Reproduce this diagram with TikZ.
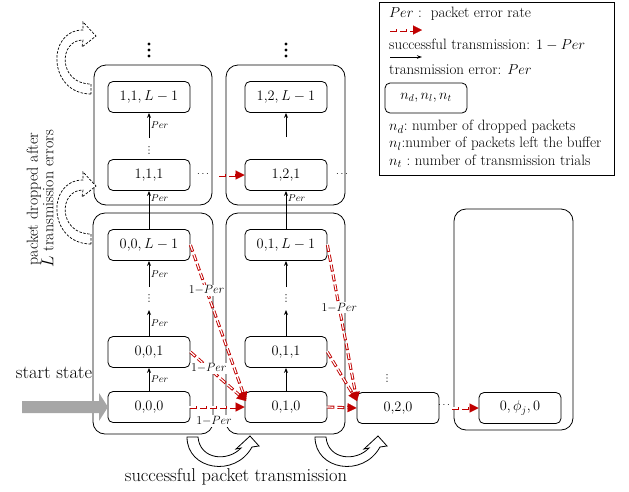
\documentclass[tikz,border=0pt]{standalone}
\usetikzlibrary{arrows.meta,calc}
\definecolor{redc}{HTML}{C00000}
\definecolor{grayc}{HTML}{A6A6A6}
\newcommand\fs[1]{\fontsize{#1}{#1}\selectfont}
\newcommand\redarr[2]{%
  \draw[rdo] (#1) -- (#2);
  \draw[rdi] (#1) -- (#2);
  \draw[rh] ($(#2)!9pt!(#1)$) -- (#2);}
\begin{document}
\begin{tikzpicture}[x=1pt,y=-1pt,
  st/.style={draw, rounded corners=5pt, minimum width=82pt, minimum height=31pt, inner sep=0pt, font=\fs{14.5}, line width=0.8pt},
  grp/.style={draw, rounded corners=12pt, line width=0.8pt},
  up/.style={-{Stealth[length=5pt,width=4pt]}, line width=0.9pt},
  per/.style={font=\fs{10}, inner sep=1.5pt},
  opl/.style={font=\fs{11.5}, fill=white, inner sep=1pt},
  rdo/.style={draw=redc, line width=3pt, dash pattern=on 7pt off 3pt, shorten >=8pt},
  rdi/.style={draw=white, line width=1.2pt, dash pattern=on 7pt off 3pt, shorten >=8pt, shorten <=-1pt},
  rh/.style={draw=redc, fill=redc, line width=0.1pt, -{Triangle[length=9pt,width=9pt]}},
  sd/.style={font=\fs{10}, inner sep=0pt},
  big/.style={font=\fs{18.5}, inner sep=0pt},
  leg/.style={font=\fs{15}, inner sep=0pt, anchor=west},
  blk/.style={draw, fill=white, line width=0.8pt},
  dblk/.style={draw, fill=white, line width=0.7pt, dash pattern=on 2.5pt off 1.5pt},
  bdot/.style={fill, radius=1.7pt},
  sdot/.style={fill, radius=0.6pt}
]
\useasboundingbox (0,0) rectangle (629,491);

% legend
\draw[line width=0.8pt] (379,2) rectangle (614,175);
\node[leg] (l1) at (389,14) {$Per$ :\ \ packet error rate};
\coordinate (la1) at (390,30); \coordinate (lb1) at (422,30);
\redarr{la1}{lb1}
\node[leg] (l2) at (389,45) {successful transmission: $1-Per$};
\coordinate (la2) at (390,57); \coordinate (lb2) at (422,57);
\draw[-{Stealth[length=5pt,width=3.5pt]}, line width=0.9pt] (la2) -- (lb2);
\node[leg] (l3) at (389,70) {transmission error: $Per$};
\node[st, minimum height=30pt] (lb) at (426,98) {$n_d, n_l, n_t$};
\node[leg] (l4) at (389,127) {$n_d$:\ number of dropped packets};
\node[leg] (l5) at (389,144) {$n_l$:number of packets left the buffer};
\node[leg] (l6) at (389,161) {$n_t$ :\ number of transmission trials};

% groups
\draw[grp] (94,65) rectangle (212,205);
\draw[grp] (226,65) rectangle (345,205);
\draw[grp] (93,213) rectangle (213,434);
\draw[grp] (226,213) rectangle (345,434);
\draw[grp] (454,209) rectangle (573,430);

% states
\node[st] (n11L) at (149,97) {$1{,}1, L-1$};
\node[st] (n111) at (149,175) {$1{,}1{,}1$};
\node[st] (n12L) at (286,97) {$1{,}2, L-1$};
\node[st] (n121) at (286,175) {$1{,}2{,}1$};
\node[st] (n00L) at (149,245) {$0{,}0, L-1$};
\node[st] (n001) at (149,352) {$0{,}0{,}1$};
\node[st] (n000) at (149,407) {$0{,}0{,}0$};
\node[st] (n01L) at (286,245) {$0{,}1, L-1$};
\node[st] (n011) at (286,352) {$0{,}1{,}1$};
\node[st] (n010) at (286,407) {$0{,}1{,}0$};
\node[st] (n020) at (398,408) {$0{,}2{,}0$};
\node[st] (n0phi) at (520,408) {$0, \phi_j, 0$};

% vertical dots
\foreach \xx in {149,286} {\fill[bdot] (\xx,44) circle; \fill[bdot] (\xx,50) circle; \fill[bdot] (\xx,56) circle;}
\foreach \xx/\yy in {149/298, 149/150, 286/298, 387/378} {\fill[sdot] (\xx,\yy-3.2) circle; \fill[sdot] (\xx,\yy) circle; \fill[sdot] (\xx,\yy+3.2) circle;}
\node[sd] (h1) at (203,174) {$\cdots$};
\node[sd] (h2) at (342,174) {$\cdots$};
\node[sd] (h3) at (444,405) {$\cdots$};

% black arrows column 1
\draw[up] (n000) -- node[per, right] (p1) {$Per$} (n001);
\coordinate (c1) at (149,310);
\draw[up] (n001) -- node[per, right] (p2) {$Per$} (c1);
\coordinate (c2) at (149,287);
\draw[up] (c2) -- node[per, right] (p3) {$Per$} (n00L);
\draw[up] (n00L) -- node[per, right, pos=0.82] (p4) {$Per$} (n111);
\coordinate (c3) at (149,138);
\draw[up] (c3) -- node[per, right] (p5) {$Per$} (n11L);
% column 2
\draw[up] (n010) -- (n011);
\coordinate (d1) at (286,310);
\draw[up] (n011) -- (d1);
\coordinate (d2) at (286,287);
\draw[up] (d2) -- (n01L);
\draw[up] (n01L) -- node[per, right, pos=0.82] (p6) {$Per$} (n121);
\coordinate (d3) at (286,137);
\draw[up] (d3) -- (n12L);

% red transitions
\coordinate (t010) at (246,401);
\coordinate (t020) at (357,401);
\redarr{n000.east}{n010.west}
\redarr{n001.east}{t010}
\redarr{n00L.east}{t010}
\redarr{n010.east}{n020.west}
\redarr{n011.east}{t020}
\redarr{n01L.east}{t020}
\coordinate (e1) at (219,175);
\redarr{e1}{n121.west}
\coordinate (e2) at (452,408);
\redarr{e2}{n0phi.west}

\node[opl] (o1) at ($(n00L.east)!0.29!(t010)$) {$1{-}Per$};
\node[opl] (o2) at ($(n001.east)!0.33!(t010)$) {$1{-}Per$};
\node[opl] (o3) at (214,421) {$1{-}Per$};
\node[opl] (o4) at ($(n01L.east)!0.4!(t020)$) {$1{-}Per$};

% start arrow
\fill[grayc] (22,401) -- (99,401) -- (99,393) -- (108,407) -- (99,421) -- (99,413) -- (22,413) -- cycle;
\node[big] (sst) at (54,373) {start state};

% curved arrows bottom
\draw[blk] (187,437) .. controls (187,470) and (235,478) .. (252,447) -- (259,446) -- (250,436) -- (236,449) -- (241,448) .. controls (228,462) and (200,460) .. (198,437) -- cycle;
\begin{scope}[shift={(128,0)}]
\draw[blk] (187,437) .. controls (187,470) and (235,478) .. (252,447) -- (259,446) -- (250,436) -- (236,449) -- (241,448) .. controls (228,462) and (200,460) .. (198,437) -- cycle;
\end{scope}
\node[big] (spt) at (236,477) {successful packet transmission};

% dashed curved arrows left
\draw[dblk] (91,94) .. controls (48,94) and (46,30) .. (83,30) -- (83,22) -- (96,36) -- (82,47) -- (83,40) .. controls (58,40) and (58,84) .. (91,84) -- cycle;
\begin{scope}[shift={(0,150)}]
\draw[dblk] (91,94) .. controls (48,94) and (46,30) .. (83,30) -- (83,22) -- (96,36) -- (82,47) -- (83,40) .. controls (58,40) and (58,84) .. (91,84) -- cycle;
\end{scope}

\node[rotate=90, align=center, font=\fontsize{16}{15.5}\selectfont, inner sep=0pt] (vt) at (40,199) {packet dropped after\\$L$ transmission errors};
\end{tikzpicture}
\end{document}
